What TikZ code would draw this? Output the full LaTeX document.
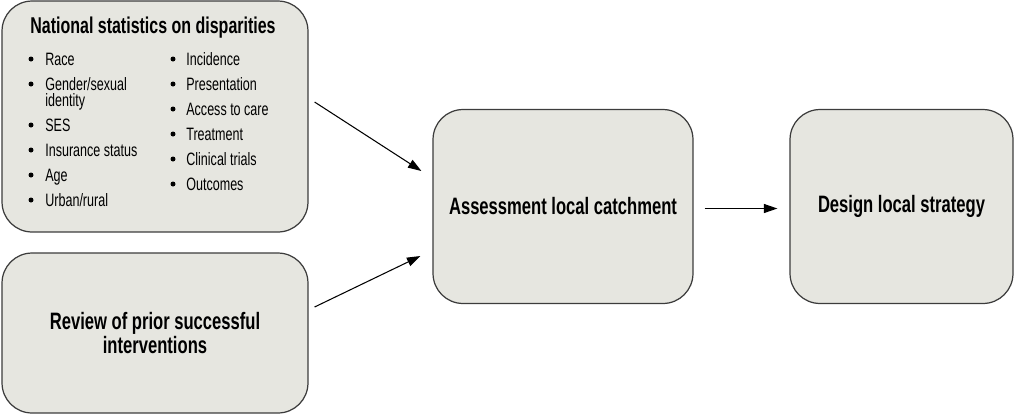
\documentclass[tikz,border=0pt]{standalone}
\usepackage{fontspec}
\setmainfont{Liberation Sans}[FakeStretch=0.7]
\usetikzlibrary{arrows.meta,positioning,calc}
\definecolor{boxgray}{RGB}{230,230,224}
\definecolor{edgegray}{RGB}{60,60,60}

\begin{document}
\begin{tikzpicture}[x=0.02cm,y=-0.02cm,
    box/.style={draw=edgegray,line width=0.7pt,fill=boxgray,rounded corners=0.6cm,inner sep=0pt},
    head/.style={font=\bfseries\fontsize{13.5}{13.6}\selectfont,align=center},
    item/.style={font=\fontsize{10.2}{11}\selectfont,anchor=base west,inner sep=0pt},
    link/.style={-{Triangle[length=0.27cm,width=0.18cm]},line width=0.6pt}]
    \useasboundingbox (0,0) rectangle (1014,417);
    % boxes
    \node[box,minimum width=6.12cm,minimum height=4.62cm] (stats) at (155,116.5) {};
    \node[box,head,minimum width=6.12cm,minimum height=3.2cm] (review) at (155,333)
        {Review of prior successful\\interventions};
    \node[box,head,minimum width=5.2cm,minimum height=3.88cm] (assess) at (563,206.5)
        {Assessment local catchment};
    \node[box,head,minimum width=4.46cm,minimum height=3.88cm] (design) at (901.5,206.5)
        {Design local strategy};
    % list inside the first box
    \node[font=\bfseries\fontsize{13}{14}\selectfont,anchor=base,inner sep=0pt] (statstitle)
        at (153,33) {National statistics on disparities};
    \foreach \y/\t [count=\i] in {65/Race,90/{Gender/sexual},131/SES,156/Insurance status,181/Age,206/{Urban/rural}}{
        \fill (31,\y-6) circle[radius=0.05cm];
        \node[item] (lft\i) at (45,\y) {\t};
    }
    \node[item] (lftid) at (45,106) {identity};
    \foreach \y/\t [count=\i] in {65/Incidence,90/Presentation,115/Access to care,140/Treatment,165/Clinical trials,190/Outcomes}{
        \fill (173,\y-6) circle[radius=0.05cm];
        \node[item] (rgt\i) at (186,\y) {\t};
    }
    % connectors
    \draw[link] ($(stats.east)+(6,-14.5)$) -- ($(assess.west)+(-11,-35.5)$);
    \draw[link] ($(review.east)+(6,-26)$) -- ($(assess.west)+(-12,49.5)$);
    \draw[link] ($(assess.east)+(11,2)$) -- ($(design.west)+(-12,2)$);
\end{tikzpicture}
\end{document}
